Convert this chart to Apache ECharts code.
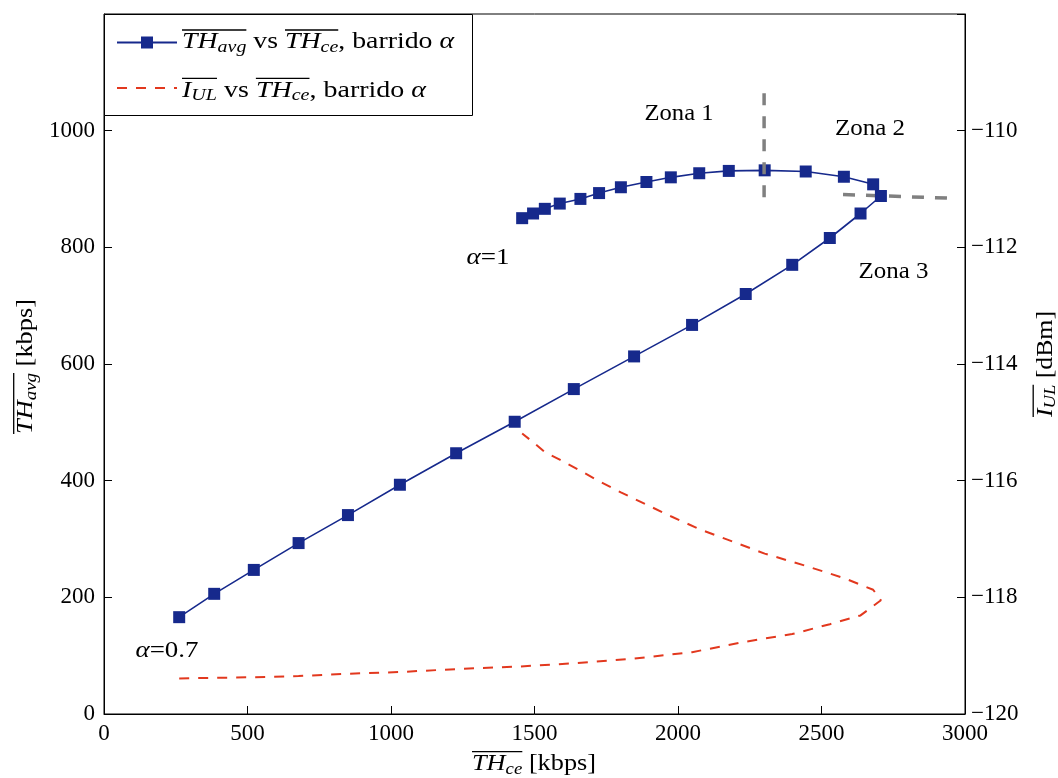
<!DOCTYPE html>
<html><head><meta charset="utf-8">
<script src="https://cdn.jsdelivr.net/npm/echarts@6/dist/echarts.min.js"></script>
<style>html,body{margin:0;padding:0;background:#fff}#c{width:1058px;height:778px}</style>
</head><body><div id="c"></div>
<script>
// ---- data ----
const thCe  = [262, 384, 522, 678, 850, 1031, 1227, 1431, 1637, 1847, 2049, 2236, 2398, 2529, 2636, 2707, 2680, 2578, 2445, 2302, 2177, 2074, 1975, 1890, 1801, 1725, 1660, 1588, 1536, 1495, 1457];
const thAvg = [166, 206, 247, 293, 341, 393, 447, 501, 557, 613, 667, 720, 770, 816, 858, 888, 908, 921, 930, 932, 931, 927, 920, 912, 903, 893, 883, 875, 866, 858, 850];
const iUL   = [-119.39, -119.38, -119.37, -119.35, -119.31, -119.28, -119.23, -119.19, -119.13, -119.05, -118.94, -118.76, -118.63, -118.46, -118.31, -118.05, -117.87, -117.67, -117.46, -117.25, -117.02, -116.83, -116.61, -116.41, -116.20, -116.01, -115.83, -115.64, -115.51, -115.34, -115.19];
const zoneVX = [2300, 2300];
const zoneVY = [1064, 880];
const zoneHX = [2575, 2960];
const zoneHY = [890.5, 884];
const xTicks = [0, 3000, 500];
const yLeftTicks = [0, 1200, 200];
const yRightTicks = [-120, -108, 2];
const zoneLabels = ['Zona 1', 'Zona 2', 'Zona 3'];

const BLUE = '#16298c', RED = '#e2381e', GRAY = '#808080';
const FONT = '"Liberation Serif","Times New Roman",serif';
const cv = document.createElement('canvas').getContext('2d');
function fstr(sz, it) { return (it ? 'italic ' : '') + sz + 'px ' + FONT; }
function tw(t, sz, it) { cv.font = fstr(sz, it); return cv.measureText(t).width; }
function midOff(sz, it) { cv.font = fstr(sz, it); cv.textBaseline = 'middle'; const d = cv.measureText('H').actualBoundingBoxDescent; cv.textBaseline = 'alphabetic'; return d; }

const MAIN = 23, SUB = 16.5, SUBDY = 3.5, OLY = -18.3;
function mathText(pieces, x, y, opt) {
  opt = opt || {};
  const ws = pieces.map(p => tw(p.t, p.sub ? SUB : MAIN, p.it));
  const W = ws.reduce((a, b) => a + b, 0);
  const s = opt.w ? opt.w / W : 1;
  let cx = opt.align === 'left' ? 0 : -W / 2;
  const children = [];
  let olStart = null;
  pieces.forEach((p, i) => {
    const sz = p.sub ? SUB : MAIN;
    const dy = p.sub ? SUBDY : 0;
    children.push({ type: 'text', x: cx, y: dy - midOff(sz, p.it), z: 20,
      style: { text: p.t, font: fstr(sz, p.it), fill: '#000', align: 'left', textAlign: 'left', verticalAlign: 'middle', textVerticalAlign: 'middle' } });
    if (p.ol && olStart === null) olStart = cx;
    const nx = cx + ws[i];
    if (p.ol && !(pieces[i + 1] && pieces[i + 1].ol)) {
      children.push({ type: 'line', z: 20, shape: { x1: olStart, y1: OLY, x2: nx, y2: OLY }, style: { stroke: '#000', lineWidth: 1.3 } });
      olStart = null;
    }
    cx = nx;
  });
  return { type: 'group', x: x, y: y, rotation: opt.rot || 0, scaleX: s, children: children, z: 20 };
}

const TH = [{ t: 'TH', it: true, ol: true }];
const legendRow1 = [...TH, { t: 'avg', it: true, sub: true, ol: true }, { t: ' vs ' }, ...TH, { t: 'ce', it: true, sub: true, ol: true }, { t: ', barrido ' }, { t: 'α', it: true }];
const legendRow2 = [{ t: 'I', it: true, ol: true }, { t: 'UL', it: true, sub: true, ol: true }, { t: ' vs ' }, ...TH, { t: 'ce', it: true, sub: true, ol: true }, { t: ', barrido ' }, { t: 'α', it: true }];
const xName = [...TH, { t: 'ce', it: true, sub: true, ol: true }, { t: ' [kbps]' }];
const yLName = [...TH, { t: 'avg', it: true, sub: true, ol: true }, { t: ' [kbps]' }];
const yRName = [{ t: 'I', it: true, ol: true }, { t: 'UL', it: true, sub: true, ol: true }, { t: ' [dBm]' }];
const alpha1 = [{ t: 'α', it: true }, { t: '=1' }];
const alpha07 = [{ t: 'α', it: true }, { t: '=0.7' }];

const graphics = [
  { type: 'rect', shape: { x: 104.5, y: 14.5, width: 368, height: 101 }, style: { fill: '#fff', stroke: '#000', lineWidth: 1 }, z: 3 },
  mathText(legendRow1, 182, 48.3, { align: 'left', w: 272 }),
  mathText(legendRow2, 182, 96.7, { align: 'left', w: 244 }),
  mathText(xName, 534, 770, { w: 124 }),
  mathText(yLName, 32, 366.5, { rot: Math.PI / 2, w: 135 }),
  mathText(yRName, 1051.5, 364, { rot: Math.PI / 2, w: 106 }),
  mathText([{ t: zoneLabels[0] }], 679, 119.6, { w: 69 }),
  mathText([{ t: zoneLabels[1] }], 870, 134.5, { w: 70 }),
  mathText([{ t: zoneLabels[2] }], 893.5, 278, { w: 70 }),
  mathText(alpha1, 488, 264, { w: 43 }),
  mathText(alpha07, 167, 656.7, { w: 63 })
];

const chart = echarts.init(document.getElementById('c'));
chart.setOption({
  animation: false,
  backgroundColor: '#fff',
  grid: { left: 104, right: 93, top: 14, bottom: 64, show: true, borderColor: '#000', borderWidth: 1, backgroundColor: 'transparent' },
  legend: {
    data: [{ name: 'avg' }, { name: 'ul', itemStyle: { color: 'rgba(0,0,0,0)', borderColor: 'rgba(0,0,0,0)', borderWidth: 0 } }],
    orient: 'vertical', left: 116, top: 35, padding: 0, itemGap: 32,
    itemWidth: 60, itemHeight: 15, formatter: () => '', textStyle: { fontSize: 10 }, selectedMode: false
  },
  xAxis: {
    type: 'value', min: xTicks[0], max: xTicks[1], interval: xTicks[2],
    axisLine: { show: true, lineStyle: { color: '#000', width: 1 } },
    axisTick: { show: true, inside: true, length: 8, lineStyle: { color: '#000' } },
    axisLabel: { color: '#000', fontFamily: FONT, fontSize: 23, margin: 8, showMinLabel: true, showMaxLabel: true, formatter: v => String(v) },
    splitLine: { show: false }
  },
  yAxis: [
    {
      type: 'value', position: 'left', min: yLeftTicks[0], max: yLeftTicks[1], interval: yLeftTicks[2],
      axisLine: { show: true, lineStyle: { color: '#000', width: 1 } },
      axisTick: { show: true, inside: true, length: 8, lineStyle: { color: '#000' } },
      axisLabel: { color: '#000', fontFamily: FONT, fontSize: 23, margin: 9, formatter: v => v === yLeftTicks[1] ? '' : String(v) },
      splitLine: { show: false }
    },
    {
      type: 'value', position: 'right', min: yRightTicks[0], max: yRightTicks[1], interval: yRightTicks[2],
      axisLine: { show: true, lineStyle: { color: '#000', width: 1 } },
      axisTick: { show: true, inside: true, length: 8, lineStyle: { color: '#000' } },
      axisLabel: { color: '#000', fontFamily: FONT, fontSize: 23, margin: 6, formatter: v => v === yRightTicks[1] ? '' : (v < 0 ? '\u2212' + Math.abs(v) : String(v)) },
      splitLine: { show: false }
    }
  ],
  series: [
    { name: 'ul', type: 'line', yAxisIndex: 1, data: thCe.map((x, i) => [x, iUL[i]]), symbol: 'none',
      lineStyle: { color: RED, width: 2, type: [10, 9] }, itemStyle: { color: RED }, z: 2 },
    { name: 'avg', type: 'line', yAxisIndex: 0, data: thCe.map((x, i) => [x, thAvg[i]]), symbol: 'rect', symbolSize: 12, showSymbol: true,
      lineStyle: { color: BLUE, width: 1.6 }, itemStyle: { color: BLUE }, z: 3 },
    { name: 'zv', type: 'line', yAxisIndex: 0, data: zoneVX.map((x, i) => [x, zoneVY[i]]), symbol: 'none',
      lineStyle: { color: GRAY, width: 3.5, type: [12, 11] }, z: 4 },
    { name: 'zh', type: 'line', yAxisIndex: 0, data: zoneHX.map((x, i) => [x, zoneHY[i]]), symbol: 'none',
      lineStyle: { color: GRAY, width: 3.5, type: [12, 11] }, z: 2 }
  ],
  graphic: graphics
});
</script>
</body></html>
